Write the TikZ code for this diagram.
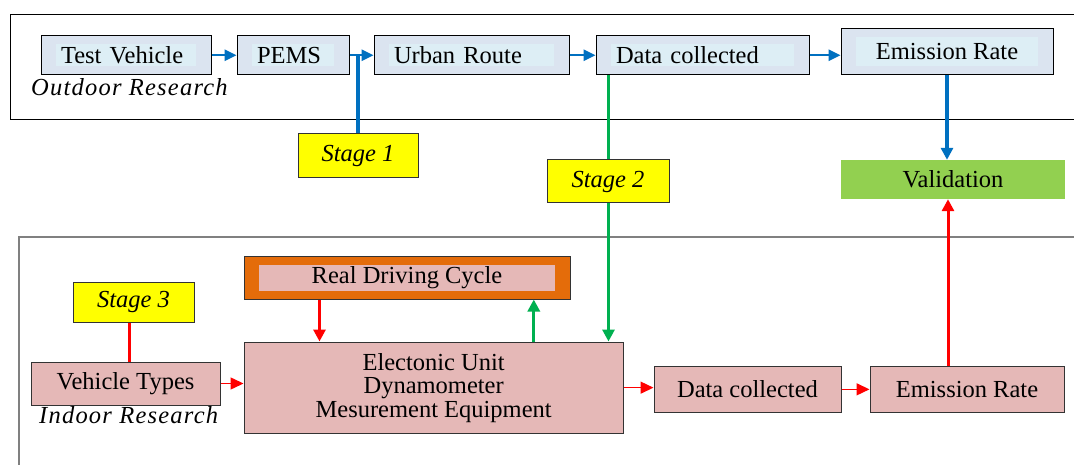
\documentclass[tikz,border=0pt]{standalone}
\usepackage{fontspec}
\setmainfont{Liberation Serif}
\usetikzlibrary{arrows.meta}
\definecolor{topfill}{HTML}{DBE4F0}
\definecolor{topinner}{HTML}{DDEEF5}
\definecolor{pinkfill}{HTML}{E5B8B7}
\definecolor{orangefill}{HTML}{E46C0A}
\definecolor{yellowfill}{HTML}{FFFF00}
\definecolor{valfill}{HTML}{92D050}
\definecolor{myblue}{HTML}{0070C0}
\definecolor{mygreen}{HTML}{00B050}
\definecolor{myred}{HTML}{FF0000}
\definecolor{boxline}{HTML}{333333}
\begin{document}
\begin{tikzpicture}[x=1pt,y=-1pt,
  every node/.style={font=\fontsize{24.5}{23.5}\selectfont},
  insetfill/.style={path picture={\fill[#1] ([shift={(15pt,-8pt)}]path picture bounding box.north west) rectangle ([shift={(-15pt,8pt)}]path picture bounding box.south east);}},
  topbox/.style={draw=black, line width=1pt, fill=topfill, insetfill=topinner, rectangle, inner xsep=20pt, inner ysep=0pt, align=left},
  topboxc/.style={draw=black, line width=1pt, fill=topfill, insetfill=topinner, rectangle, inner sep=0pt, align=center},
  pinkbox/.style={draw=boxline, line width=1pt, fill=pinkfill, rectangle, inner sep=0pt, align=center},
  rdcbox/.style={draw=boxline, line width=1pt, fill=orangefill, insetfill=pinkfill, rectangle, inner sep=0pt, align=center},
  stagebox/.style={draw=boxline, line width=1pt, fill=yellowfill, rectangle, inner sep=0pt, font=\fontsize{24.5}{23.5}\selectfont\itshape},
  valbox/.style={fill=valfill, rectangle, inner sep=0pt},
  regionlabel/.style={anchor=base west, inner sep=0pt, font=\fontsize{24.5}{23.5}\selectfont\itshape\addfontfeature{LetterSpace=5}},
  bluearr/.style={draw=myblue, line width=2.5pt, -{Triangle[length=12pt,width=11pt]}},
  bluethick/.style={draw=myblue, line width=4pt},
  greenarr/.style={draw=mygreen, line width=3pt, -{Triangle[length=12pt,width=12pt]}},
  redarr/.style={draw=myred, line width=3pt, -{Triangle[length=12pt,width=12pt]}},
  redthin/.style={draw=myred, line width=1.5pt, -{Triangle[length=13pt,width=12pt]}},
  redline/.style={draw=myred, line width=3pt}
]
\useasboundingbox (0,0) rectangle (1074,465);
\fill[white] (0,0) rectangle (1074,465);

% frames
\draw[black, line width=1pt] (10,14.5) rectangle (1090,119.3);
\draw[black!50, line width=2pt] (19,237) rectangle (1090,490);

% outdoor row
\node[topbox, minimum width=170, minimum height=38.5, text width=130] (tv) at (126,55.25) {Test Vehicle};
\node[topbox, minimum width=112, minimum height=38.5, text width=72] (pems) at (293,55.25) {PEMS};
\node[topbox, minimum width=195, minimum height=38.5, text width=155] (ur) at (471.5,55.25) {Urban Route};
\node[topbox, minimum width=213, minimum height=38.5, text width=173] (dc1) at (702.5,55.25) {Data collected};
\node[topboxc, minimum width=212, minimum height=45.5] (er1) at (947,51.75) {Emission Rate};
\node[regionlabel] (outlab) at (31,95.7) {Outdoor Research};

\node[valbox, minimum width=224, minimum height=39] (val) at (953,179.5) {Validation};
\node[stagebox, minimum width=120, minimum height=44.5] (s1) at (358,155.75) {Stage 1};

% indoor row
\node[rdcbox, minimum width=326, minimum height=42.3] (rdc) at (407,277.85) {Real Driving Cycle};
\node[stagebox, minimum width=121, minimum height=39.3] (s3) at (133.5,302.35) {Stage 3};
\node[pinkbox, minimum width=189, minimum height=43] (vt) at (125.5,383.5) {Vehicle Types};
\node[pinkbox, minimum width=379.3, minimum height=91.3] (el) at (433.65,387.65) {Electonic Unit\\Dynamometer\\Mesurement Equipment};
\node[pinkbox, minimum width=187, minimum height=45.3] (dc2) at (747.5,389.35) {Data collected};
\node[pinkbox, minimum width=194, minimum height=45.3] (er2) at (967,389.35) {Emission Rate};
\node[regionlabel] (inlab) at (39,423.3) {Indoor Research};

% outdoor connectors
\draw[bluearr] (tv.east) -- (pems.west);
\draw[bluearr] (pems.east) -- (ur.west);
\draw[bluethick] (s1.north) -- (s1.north |- pems.east);
\draw[bluearr] (ur.east) -- (dc1.west);
\draw[bluearr] (dc1.east) -- (dc1.east -| er1.west);
\draw[bluethick, -{Triangle[length=12pt,width=12pt]}] (er1.south) -- (er1.south |- val.north);

% stage 2 green line
\draw[greenarr] ([xshift=13pt]dc1.south west) -- ([xshift=13pt]dc1.south west |- el.north);
\node[stagebox, minimum width=122, minimum height=43] (s2) at (608,181.5) {Stage 2};

% indoor connectors
\draw[redarr] ([xshift=76pt]rdc.south west) -- ([xshift=76pt]rdc.south west |- el.north);
\draw[greenarr] ([xshift=-90pt]el.north east) -- ([xshift=-90pt]el.north east |- rdc.south);
\draw[redline] ([xshift=-4pt]s3.south) -- ([xshift=-4pt]s3.south |- vt.north);
\draw[redthin] (vt.east) -- (vt.east -| el.west);
\draw[redthin] (el.east) -- (el.east -| dc2.west);
\draw[redthin] (dc2.east) -- (er2.west);
\draw[redarr] ([xshift=-19pt]er2.north) -- ([xshift=-19pt]er2.north |- val.south);
\end{tikzpicture}
\end{document}
